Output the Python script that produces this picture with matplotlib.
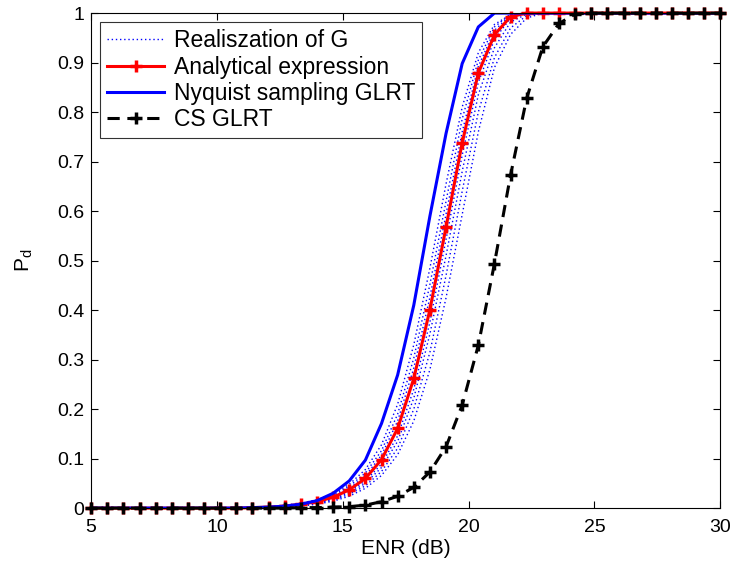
import numpy as np
import matplotlib.pyplot as plt

plt.rcParams['font.family'] = ['Liberation Sans', 'DejaVu Sans']
plt.rcParams['mathtext.fontset'] = 'custom'
plt.rcParams['mathtext.rm'] = 'Liberation Sans'
plt.rcParams['mathtext.it'] = 'Liberation Sans'

# ENR grid (40 points between 5 and 30 dB)
enr = np.linspace(5, 30, 40)

# detection probability, points 0..39
pd_analytical = [0, 0, 0, 0, 0, 0, 0, 0, 0, 0,
                 0.001, 0.002, 0.004, 0.008, 0.013, 0.022, 0.037, 0.06, 0.098, 0.161,
                 0.262, 0.401, 0.568, 0.738, 0.879, 0.956, 0.993, 1, 1, 1,
                 1, 1, 1, 1, 1, 1, 1, 1, 1, 1]
pd_nyquist = [0, 0, 0, 0, 0, 0, 0, 0, 0, 0,
              0.001, 0.002, 0.004, 0.008, 0.015, 0.03, 0.055, 0.097, 0.171, 0.269,
              0.41, 0.59, 0.757, 0.898, 0.972, 1, 1, 1, 1, 1,
              1, 1, 1, 1, 1, 1, 1, 1, 1, 1]
pd_cs = [0, 0, 0, 0, 0, 0, 0, 0, 0, 0,
         0, 0, 0, 0.001, 0.001, 0.002, 0.003, 0.006, 0.013, 0.024,
         0.042, 0.073, 0.124, 0.208, 0.329, 0.494, 0.673, 0.828, 0.932, 0.979,
         0.998, 1, 1, 1, 1, 1, 1, 1, 1, 1]

# realizations of G over points 10..28 (zero before, one after)
realizations = [
    [0.0015, 0.003, 0.006, 0.010, 0.017, 0.029, 0.048, 0.078, 0.128, 0.21,
     0.33, 0.485, 0.655, 0.81, 0.92, 0.977, 0.997, 1, 1],
    [0.001, 0.003, 0.005, 0.009, 0.016, 0.026, 0.044, 0.071, 0.116, 0.19,
     0.303, 0.452, 0.62, 0.786, 0.905, 0.972, 0.998, 1, 1],
    [0.001, 0.002, 0.004, 0.008, 0.014, 0.024, 0.040, 0.065, 0.107, 0.176,
     0.283, 0.426, 0.594, 0.76, 0.892, 0.965, 0.996, 1, 1],
    [0.001, 0.002, 0.004, 0.007, 0.012, 0.020, 0.034, 0.055, 0.089, 0.146,
     0.24, 0.376, 0.543, 0.713, 0.86, 0.947, 0.99, 1, 1],
    [0.001, 0.002, 0.003, 0.006, 0.011, 0.018, 0.031, 0.050, 0.082, 0.135,
     0.222, 0.352, 0.51, 0.68, 0.835, 0.93, 0.982, 0.998, 1],
    [0.001, 0.001, 0.003, 0.005, 0.010, 0.016, 0.028, 0.045, 0.074, 0.121,
     0.2, 0.315, 0.47, 0.64, 0.8, 0.91, 0.97, 0.995, 1],
    [0, 0.001, 0.002, 0.004, 0.008, 0.014, 0.024, 0.040, 0.066, 0.108,
     0.176, 0.28, 0.425, 0.593, 0.76, 0.89, 0.957, 0.99, 1],
]

fig = plt.figure(figsize=(7.35, 5.69), dpi=100)
ax = fig.add_axes([0.124, 0.107, 0.856, 0.870])

for i, r in enumerate(realizations):
    pd_r = [0] * 10 + r + [1] * 11
    ax.plot(enr, pd_r, color='blue', linestyle=(0, (1, 2)), linewidth=1.0,
            label='Realiszation of G' if i == 0 else None)

ax.plot(enr, pd_analytical, color='red', linewidth=2.2, marker='+',
        markersize=9, markeredgewidth=2.5, clip_on=False,
        label='Analytical expression')
ax.plot(enr, pd_nyquist, color='blue', linewidth=2.2,
        label='Nyquist sampling GLRT')
ax.plot(enr, pd_cs, color='black', linewidth=2.2, linestyle=(0, (4, 2.5)),
        marker='+', markersize=9, markeredgewidth=2.5, clip_on=False,
        label='CS GLRT')

ax.set_xlim(5, 30)
ax.set_ylim(0, 1)
ax.set_xticks([5, 10, 15, 20, 25, 30])
ax.set_yticks(np.arange(0, 1.01, 0.1))
ax.set_yticklabels(['0', '0.1', '0.2', '0.3', '0.4', '0.5', '0.6', '0.7',
                    '0.8', '0.9', '1'])
ax.tick_params(direction='in', top=True, right=True, labelsize=14,
               length=5, width=0.8, pad=5)
ax.tick_params(axis='x', pad=8)
ax.set_xlabel('ENR (dB)', fontsize=15, labelpad=2)
ax.set_ylabel('P$_\\mathregular{d}$', fontsize=15, labelpad=16)

leg = ax.legend(loc='upper left', bbox_to_anchor=(0.0, 1.0), fontsize=16.5,
                frameon=True, fancybox=False, edgecolor='black',
                handlelength=2.5, borderaxespad=0.4, labelspacing=0.15,
                handletextpad=0.4, borderpad=0.3)
leg.get_frame().set_linewidth(0.8)

fig.savefig('out.png', dpi=100)
